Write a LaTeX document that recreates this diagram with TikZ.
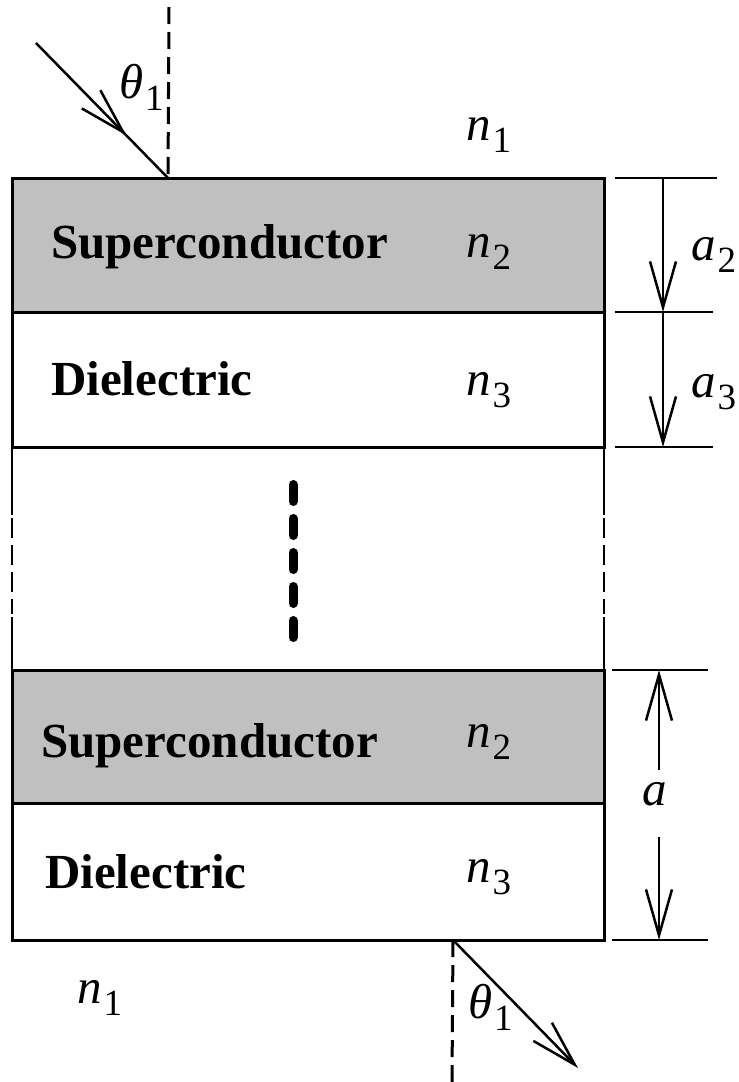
\documentclass[tikz,border=0pt]{standalone}
\usepackage{fontspec}
\setmainfont{Liberation Serif}
\usetikzlibrary{calc, positioning}
\usetikzlibrary{arrows.meta}
\usetikzlibrary{decorations.markings}

\definecolor{scgray}{RGB}{192,192,192}
\newcommand{\symsub}[2]{\textit{#1}\kern0.04em\raisebox{-0.26em}{\fontsize{37}{40}\selectfont #2}}

\tikzset{
  vtip/.tip={Straight Barb[length=46pt,width=26pt]},
  layerline/.style={line width=3pt},
  ray/.style={line width=2.5pt},
  normalline/.style={line width=3pt, dash pattern=on 17pt off 8pt},
  dimline/.style={line width=2.5pt},
  lbl/.style={anchor=base west, inner sep=0pt},
}

\begin{document}
\begin{tikzpicture}[x=1pt,y=-1pt,font=\fontsize{49}{56}\selectfont]
\def\xl{12}
\def\xr{604}
\def\ya{178}
\def\yb{312}
\def\yc{447}
\def\yd{670}
\def\ye{803}
\def\yf{940}
\useasboundingbox (0,0) rectangle (739,1082);

\coordinate (In) at (168,\ya);
\coordinate (Out) at (453,\yf);

% Layer stack
\filldraw[fill=scgray,layerline] (\xl,\ya) rectangle (\xr,\yb);
\draw[layerline] (\xl,\yb) rectangle (\xr,\yc);
\filldraw[fill=scgray,layerline] (\xl,\yd) rectangle (\xr,\ye);
\draw[layerline] (\xl,\ye) rectangle (\xr,\yf);

% Broken sides of the omitted periods
\foreach \x in {\xl,\xr} {
  \draw[line width=2.4pt] (\x,\yc) -- (\x,515);
  \draw[line width=2.4pt, dash pattern=on 20pt off 7pt] (\x,518) -- (\x,614);
  \draw[line width=2.4pt] (\x,617) -- (\x,\yd);
}
\draw[line width=9pt, line cap=round, dash pattern=on 17pt off 17pt]
    (293,484.5) -- (293,638);

% Incident and transmitted rays
\draw[normalline] (169,7) -- (In);
\draw[ray, postaction={decorate, decoration={markings,
    mark=at position 0.685 with {\arrow{vtip}}}}] (36,43) -- (In);
\draw[normalline] (Out) -- (452,1082);
\draw[ray, -{vtip}] (Out) -- (578,1068);

% Thickness marks
\coordinate (Da) at (663,\ya);
\coordinate (Db) at (663,\yb);
\coordinate (Dc) at (663,\yc);
\coordinate (Dd) at (659,\yd);
\coordinate (Df) at (659,\yf);
\draw[dimline] (615,\ya) -- (717,\ya);
\draw[dimline] (615,\yb) -- (713,\yb);
\draw[dimline] (615,\yc) -- (713,\yc);
\draw[dimline] (612,\yd) -- (708,\yd);
\draw[dimline] (612,\yf) -- (708,\yf);
\draw[dimline, -{vtip}] (Da) -- (Db);
\draw[dimline, -{vtip}] (Db) -- (Dc);
\draw[dimline, -{vtip}] (659,770) -- (Dd);
\draw[dimline, -{vtip}] (659,837) -- (Df);

% Labels
\node[lbl] (sc1) at (51,258) {\textbf{Superconductor}};
\node[lbl] (di1) at (51,395) {\textbf{Dielectric}};
\node[lbl] (sc2) at (41,757) {\textbf{Superconductor}};
\node[lbl] (di2) at (45,888) {\textbf{Dielectric}};
\node[lbl] (n1top) at (466,140) {\symsub{n}{1}};
\node[lbl] (n2top) at (466,257) {\symsub{n}{2}};
\node[lbl] (n3top) at (466,395) {\symsub{n}{3}};
\node[lbl] (n2bot) at (466,747) {\symsub{n}{2}};
\node[lbl] (n3bot) at (466,882) {\symsub{n}{3}};
\node[lbl] (n1bot) at (77,1003) {\symsub{n}{1}};
\node[lbl] (th1) at (119,98) {\symsub{θ}{1}};
\node[lbl] (th2) at (468,1018) {\symsub{θ}{1}};
\node[lbl] (la2) at (691,260) {\symsub{a}{2}};
\node[lbl] (la3) at (691,397) {\symsub{a}{3}};
\node[lbl] (la) at (642,805) {\textit{a}};
\end{tikzpicture}
\end{document}
